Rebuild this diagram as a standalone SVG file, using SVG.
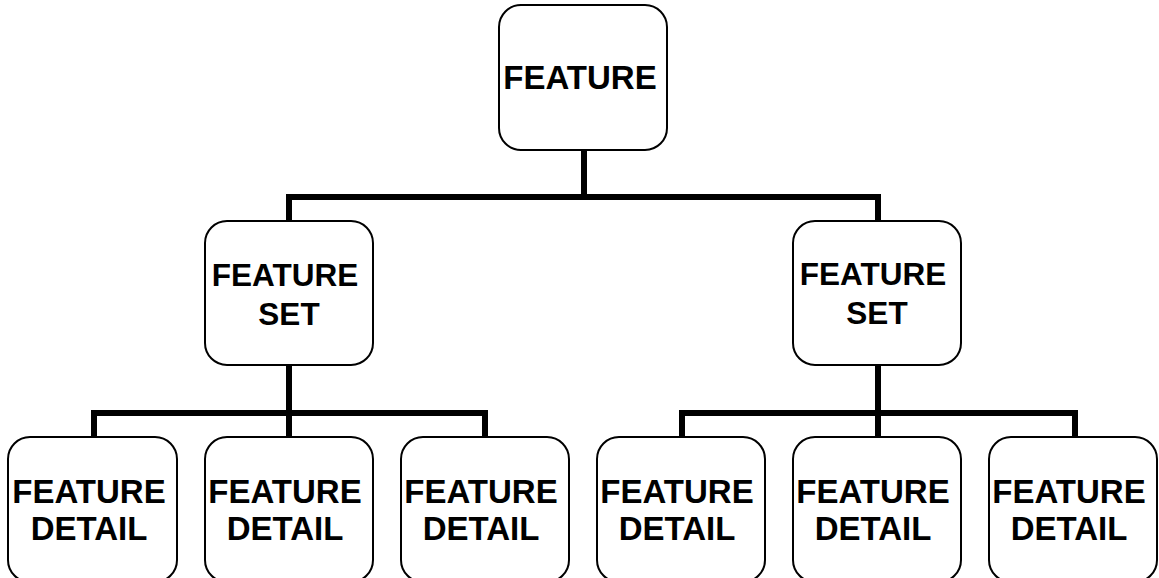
<svg xmlns="http://www.w3.org/2000/svg" width="1159" height="578" viewBox="0 0 1159 578">
  <style>
    .box { fill: #ffffff; stroke: #000000; stroke-width: 2; }
    .lbl { font-family: "Liberation Sans", Arial, sans-serif; font-weight: bold; font-size: 33px; fill: #000000; text-anchor: middle; }
    .lbl-set { font-size: 31.5px; }
    .wire { fill: none; stroke: #000000; stroke-width: 6; stroke-linecap: butt; stroke-linejoin: miter; }
  </style>
  <rect width="1159" height="578" fill="#ffffff"/>

  <!-- connectors -->
  <g id="connectors">
    <path class="wire" d="M584,150 V197"/>
    <path class="wire" d="M289,222 V197 H878 V222"/>
    <path class="wire" d="M289,365 V413"/>
    <path class="wire" d="M94,437 V413 H485 V437"/>
    <path class="wire" d="M289,413 V437"/>
    <path class="wire" d="M878,365 V413"/>
    <path class="wire" d="M682,437 V413 H1075 V437"/>
    <path class="wire" d="M878,413 V437"/>
  </g>

  <g id="feature">
    <rect class="box" x="499" y="5" width="168" height="145" rx="22"/>
    <text class="lbl" x="580" y="89">FEATURE</text>
  </g>

  <g id="set-left">
    <rect class="box" x="205" y="221" width="168" height="144" rx="22"/>
    <text class="lbl lbl-set" x="285" y="286">FEATURE</text>
    <text class="lbl lbl-set" x="289" y="325">SET</text>
  </g>

  <g id="set-right">
    <rect class="box" x="793" y="221" width="168" height="144" rx="22"/>
    <text class="lbl lbl-set" x="873" y="285">FEATURE</text>
    <text class="lbl lbl-set" x="877" y="324">SET</text>
  </g>

  <g id="detail-1">
    <rect class="box" x="8" y="437" width="169" height="145" rx="22"/>
    <text class="lbl" x="89" y="503">FEATURE</text>
    <text class="lbl" x="89" y="540">DETAIL</text>
  </g>
  <g id="detail-2">
    <rect class="box" x="205" y="437" width="168" height="145" rx="22"/>
    <text class="lbl" x="285" y="503">FEATURE</text>
    <text class="lbl" x="285" y="540">DETAIL</text>
  </g>
  <g id="detail-3">
    <rect class="box" x="401" y="437" width="168" height="145" rx="22"/>
    <text class="lbl" x="481" y="503">FEATURE</text>
    <text class="lbl" x="481" y="540">DETAIL</text>
  </g>
  <g id="detail-4">
    <rect class="box" x="597" y="437" width="168" height="145" rx="22"/>
    <text class="lbl" x="677" y="503">FEATURE</text>
    <text class="lbl" x="677" y="540">DETAIL</text>
  </g>
  <g id="detail-5">
    <rect class="box" x="793" y="437" width="168" height="145" rx="22"/>
    <text class="lbl" x="873" y="503">FEATURE</text>
    <text class="lbl" x="873" y="540">DETAIL</text>
  </g>
  <g id="detail-6">
    <rect class="box" x="989" y="437" width="168" height="145" rx="22"/>
    <text class="lbl" x="1069" y="503">FEATURE</text>
    <text class="lbl" x="1069" y="540">DETAIL</text>
  </g>
</svg>
